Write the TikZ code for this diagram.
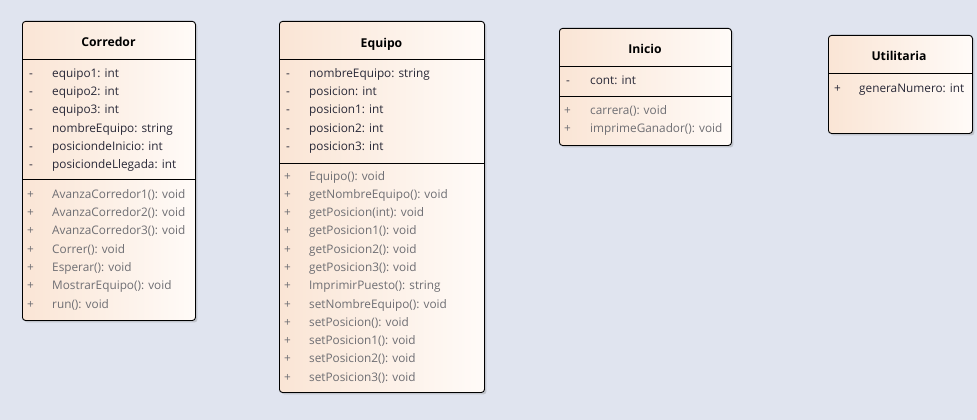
\documentclass[tikz,border=0pt]{standalone}
\usepackage{fontspec}
\setmainfont{Open Sans}
\usetikzlibrary{shadows}
\definecolor{bg}{RGB}{224,228,239}
\definecolor{peach}{RGB}{250,229,213}
\definecolor{cream}{RGB}{255,251,248}
\definecolor{attrc}{RGB}{40,40,55}
\definecolor{methc}{RGB}{110,110,115}
\tikzset{
  classbox/.style={draw=black, line width=0.9pt, rounded corners=3pt, inner sep=0pt,
    left color=peach, right color=cream, anchor=north west,
    drop shadow={shadow xshift=2pt, shadow yshift=-2pt, opacity=0.25, fill=black!60}},
  sepline/.style={draw=black, line width=0.9pt},
  title/.style={font=\fontsize{12.2}{14}\selectfont\bfseries, text=black, inner sep=0pt,
    text height=10.5pt, text depth=1.5pt},
  attr/.style={font=\fontsize{11.8}{14}\selectfont, text=attrc, anchor=west, inner sep=0pt,
    text height=10.5pt, text depth=1.5pt},
  meth/.style={font=\fontsize{11.8}{14}\selectfont, text=methc, anchor=west, inner sep=0pt,
    text height=10.5pt, text depth=1.5pt},
}
\newcommand{\arow}[5]{\node[attr] (#1s) at (#2,#4) {-}; \node[attr] (#1) at (#3,#4) {#5};}
\newcommand{\mrow}[5]{\node[meth] (#1s) at (#2,#4) {+}; \node[meth] (#1) at (#3,#4) {#5};}
\begin{document}
\begin{tikzpicture}[x=1pt,y=-1pt]
\fill[bg] (0,0) rectangle (977,420);
\useasboundingbox (0,0) rectangle (977,420);
% Corredor
\node[classbox, minimum width=173pt, minimum height=299pt] (corredor) at (22,21) {};
\node[title] (corredorT) at (108.5,42) {Corredor};
\draw[sepline] (22,59) -- (195,59);
\draw[sepline] (22,179) -- (195,179);
\arow{c1}{29}{52}{73}{equipo1: int}
\arow{c2}{29}{52}{91}{equipo2: int}
\arow{c3}{29}{52}{109}{equipo3: int}
\arow{c4}{29}{52}{128}{nombreEquipo: string}
\arow{c5}{29}{52}{146}{posiciondeInicio: int}
\arow{c6}{29}{52}{164}{posiciondeLlegada: int}
\mrow{cm1}{27}{52}{194}{AvanzaCorredor1(): void}
\mrow{cm2}{27}{52}{212}{AvanzaCorredor2(): void}
\mrow{cm3}{27}{52}{230}{AvanzaCorredor3(): void}
\mrow{cm4}{27}{52}{249}{Correr(): void}
\mrow{cm5}{27}{52}{267}{Esperar(): void}
\mrow{cm6}{27}{52}{285}{MostrarEquipo(): void}
\mrow{cm7}{27}{52}{304}{run(): void}
% Equipo
\node[classbox, minimum width=205pt, minimum height=371pt] (equipo) at (279,21) {};
\node[title] (equipoT) at (381.5,43) {Equipo};
\draw[sepline] (279,59) -- (484,59);
\draw[sepline] (279,163) -- (484,163);
\arow{e1}{286}{309}{73}{nombreEquipo: string}
\arow{e2}{286}{309}{91}{posicion: int}
\arow{e3}{286}{309}{109}{posicion1: int}
\arow{e4}{286}{309}{128}{posicion2: int}
\arow{e5}{286}{309}{146}{posicion3: int}
\mrow{em1}{284}{309}{176}{Equipo(): void}
\mrow{em2}{284}{309}{194}{getNombreEquipo(): void}
\mrow{em3}{284}{309}{212}{getPosicion(int): void}
\mrow{em4}{284}{309}{230}{getPosicion1(): void}
\mrow{em5}{284}{309}{249}{getPosicion2(): void}
\mrow{em6}{284}{309}{267}{getPosicion3(): void}
\mrow{em7}{284}{309}{285}{ImprimirPuesto(): string}
\mrow{em8}{284}{309}{304}{setNombreEquipo(): void}
\mrow{em9}{284}{309}{322}{setPosicion(): void}
\mrow{em10}{284}{309}{340}{setPosicion1(): void}
\mrow{em11}{284}{309}{358}{setPosicion2(): void}
\mrow{em12}{284}{309}{377}{setPosicion3(): void}
% Inicio
\node[classbox, minimum width=172pt, minimum height=117pt] (inicio) at (559,28) {};
\node[title] (inicioT) at (645,49) {Inicio};
\draw[sepline] (559,66) -- (731,66);
\draw[sepline] (559,96) -- (731,96);
\arow{i1}{566}{590}{80}{cont: int}
\mrow{im1}{564}{590}{110}{carrera(): void}
\mrow{im2}{564}{590}{128}{imprimeGanador(): void}
% Utilitaria
\node[classbox, minimum width=144pt, minimum height=98pt] (util) at (828,35) {};
\node[title] (utilT) at (899,56) {Utilitaria};
\draw[sepline] (828,73) -- (972,73);
\node[attr] (u1s) at (834,88) {+};
\node[attr] (u1) at (859,88) {generaNumero: int};
\end{tikzpicture}
\end{document}
